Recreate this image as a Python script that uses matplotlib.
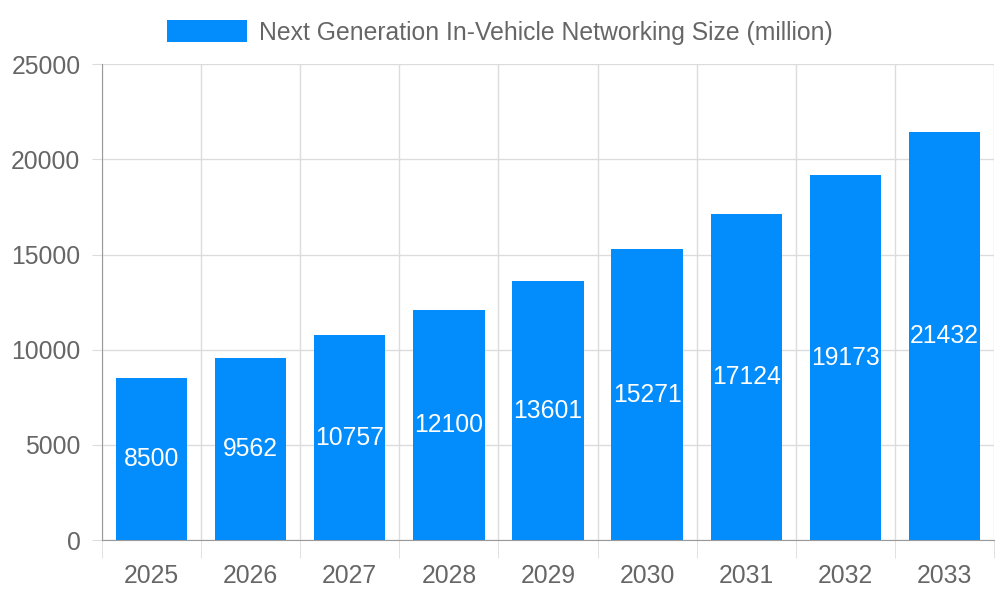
import matplotlib
matplotlib.use("Agg")
import matplotlib.pyplot as plt
import numpy as np

years = ["2025", "2026", "2027", "2028", "2029", "2030", "2031", "2032", "2033"]
sizes = [8500, 9562, 10757, 12100, 13601, 15271, 17124, 19173, 21432]
series_name = "Next Generation In-Vehicle Networking Size (million)"

plt.rcParams['font.family'] = ['Liberation Sans', 'DejaVu Sans']
bar_color = "#038cfc"
grid_color = "#dcdcdc"
text_color = "#666666"
fs = 17.8

fig = plt.figure(figsize=(10, 6), dpi=100)
ax = fig.add_axes([0.102, 0.1, 0.892, 0.793])

x = np.arange(len(years))
bars = ax.bar(x, sizes, width=0.72, color=bar_color, label=series_name, zorder=3)

for xi, v in zip(x, sizes):
    ax.text(xi, v / 2, str(v), ha="center", va="center", color="white",
            fontsize=fs, zorder=4)

ax.set_xlim(-0.5, len(years) - 0.5)
ax.set_ylim(0, 25000)
ax.set_yticks(np.arange(0, 25001, 5000))
ax.set_xticks(x)
ax.set_xticklabels(years)
ax.set_xticks(np.arange(-0.5, len(years), 1.0), minor=True)

ax.tick_params(axis="x", which="major", length=0, pad=17, labelsize=fs, labelcolor=text_color)
ax.tick_params(axis="x", which="minor", length=13, color=grid_color)
ax.tick_params(axis="y", length=7, color=grid_color, labelsize=fs, labelcolor=text_color, pad=8.5)

ax.grid(True, axis="y", which="major", color=grid_color, linewidth=1, zorder=0)
ax.grid(True, axis="x", which="minor", color=grid_color, linewidth=1, zorder=0)

for side in ["top", "right"]:
    ax.spines[side].set_visible(False)
ax.spines["left"].set_color("#999999")
ax.spines["bottom"].set_color("#999999")

fig.legend(handles=[bars], labels=[series_name], loc="upper center",
           bbox_to_anchor=(0.5, 1.003), frameon=False, fontsize=fs,
           handlelength=3.2, handleheight=0.95, handletextpad=0.5,
           labelcolor=text_color)

fig.savefig("out.png", dpi=100)
